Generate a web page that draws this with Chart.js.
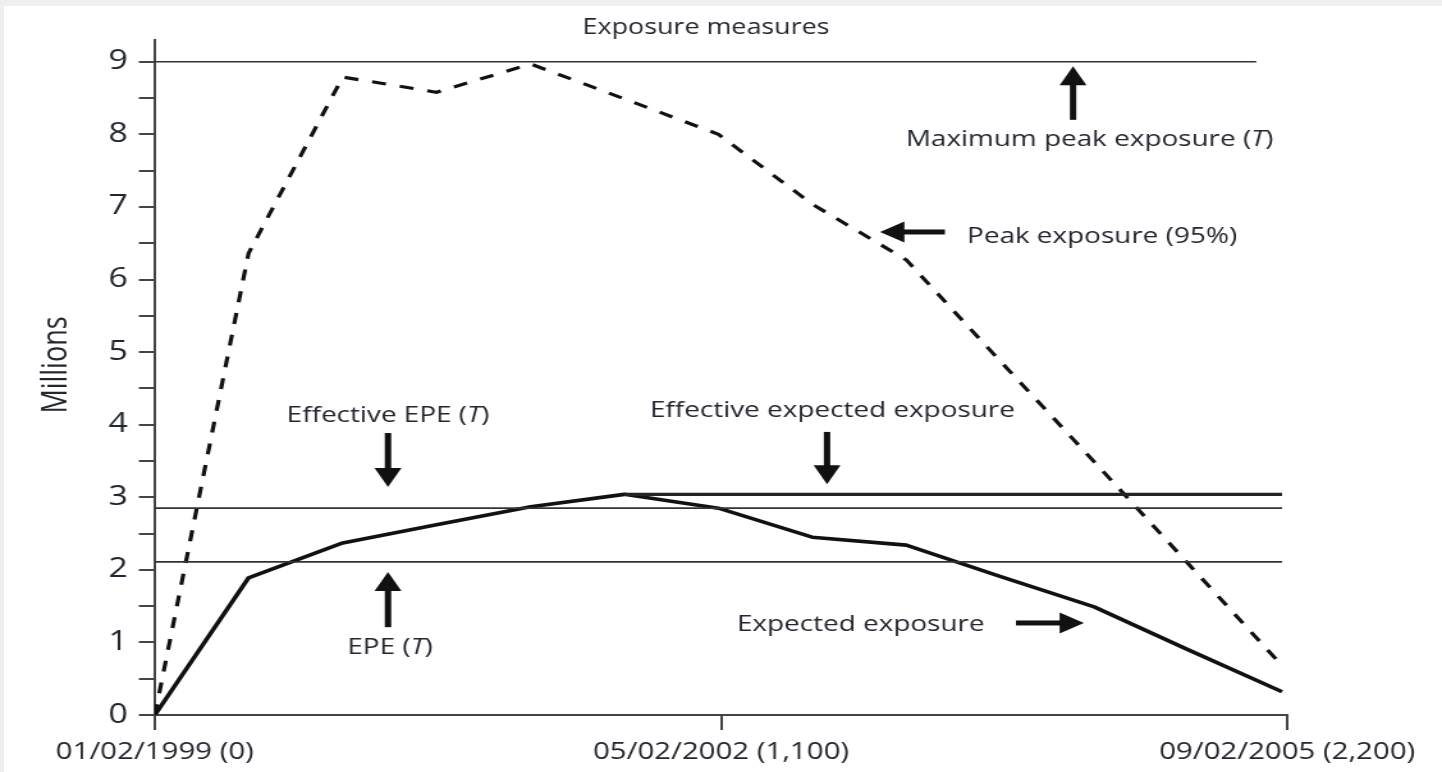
<!DOCTYPE html>
<html>
<head>
<meta charset="utf-8">
<script src="https://cdn.jsdelivr.net/npm/chart.js@4.4.1/dist/chart.umd.min.js"></script>
<style>
  html, body { margin: 0; padding: 0; }
  body { width: 1442px; height: 772px; overflow: hidden; background: #efefef; position: relative; }
  #panel { position: absolute; left: 4px; top: 6px; right: 0; bottom: 0; background: #fff; }
  /* the original figure is stretched sideways, so the whole chart is too */
  #wrap { position: absolute; left: 0; top: 0; width: 1127px; height: 772px;
          transform: scaleX(1.2795); transform-origin: 0 0; }
</style>
</head>
<body>
<div id="panel"></div>
<div id="wrap"><canvas id="chart" width="1127" height="772" style="width:1127px;height:772px"></canvas></div>
<script>
// time grid in days (roughly every six months)
const days = [0, 182, 365, 547, 730, 912, 1095, 1277, 1460, 1642, 1825, 2007, 2190];
const expectedExposure = [0, 1.89, 2.37, 2.62, 2.87, 3.04, 2.85, 2.45, 2.34, 1.91, 1.49, 0.90, 0.32];
const peakExposure = [0, 6.36, 8.79, 8.58, 8.97, 8.49, 8.0, 7.04, 6.27, 4.88, 3.49, 2.09, 0.68];
const effectiveEE = [null, null, null, null, null, 3.04, 3.04, 3.04, 3.04, 3.04, 3.04, 3.04, 3.04];

const maxPeakExposure = 9;
const maxPeakEnd = 2140;
const effectiveEPE = 2.85;
const epe = 2.11;

const xTickValues = [0, 1100, 2200];
const xTickLabels = ['01/02/1999 (0)', '05/02/2002 (1,100)', '09/02/2005 (2,200)'];
const yTickValues = [0, 0.5, 1, 1.5, 2, 2.5, 3, 3.5, 4, 4.5, 5, 5.5, 6, 6.5, 7, 7.5, 8, 8.5, 9];
const yTickLabels = ['0', '1', '2', '3', '4', '5', '6', '7', '8', '9'];

const FONT = '"Open Sans", "Noto Sans", sans-serif';
const TEXT = '#23262f';
const LINE = '#111';

function pts(xs, ys) {
  return xs.map((x, i) => ({ x: x, y: ys[i] }));
}

// labels and arrows, anchored in data units
const labels = [
  { parts: [['Maximum peak exposure (', false], ['T', true], [')', false]], x: 1459, y: 7.92, align: 'left' },
  { parts: [['Peak exposure (95%)', false]], x: 1578, y: 6.59, align: 'left' },
  { parts: [['Effective EPE (', false], ['T', true], [')', false]], x: 453, y: 4.12, align: 'center' },
  { parts: [['Effective expected exposure', false]], x: 962, y: 4.19, align: 'left' },
  { parts: [['EPE (', false], ['T', true], [')', false]], x: 457, y: 0.92, align: 'center' },
  { parts: [['Expected exposure', false]], x: 1131, y: 1.24, align: 'left' }
];
const arrows = [
  { x1: 1784, y1: 8.20, x2: 1784, y2: 8.94 },
  { x1: 1535, y1: 6.655, x2: 1409, y2: 6.655 },
  { x1: 453, y1: 3.885, x2: 453, y2: 3.14 },
  { x1: 1306, y1: 3.90, x2: 1306, y2: 3.18 },
  { x1: 453, y1: 1.21, x2: 453, y2: 1.97 },
  { x1: 1673, y1: 1.268, x2: 1805, y2: 1.268 }
];

function drawRich(ctx, parts, x, y, align, size) {
  const widths = parts.map(p => {
    ctx.font = (p[1] ? 'italic ' : '') + '500 ' + size + 'px ' + FONT;
    return ctx.measureText(p[0]).width;
  });
  const total = widths.reduce((a, b) => a + b, 0);
  let cx = align === 'center' ? x - total / 2 : x;
  ctx.textAlign = 'left';
  ctx.textBaseline = 'middle';
  parts.forEach((p, i) => {
    ctx.font = (p[1] ? 'italic ' : '') + '500 ' + size + 'px ' + FONT;
    ctx.fillText(p[0], cx, y);
    cx += widths[i];
  });
}

function drawArrow(ctx, x1, y1, x2, y2) {
  const shaft = 5, half = 10.5, head = 19;
  const ang = Math.atan2(y2 - y1, x2 - x1);
  const len = Math.hypot(x2 - x1, y2 - y1);
  ctx.save();
  ctx.translate(x1, y1);
  ctx.rotate(ang);
  ctx.fillStyle = LINE;
  ctx.fillRect(0, -shaft / 2, len - head + 1, shaft);
  ctx.beginPath();
  ctx.moveTo(len, 0);
  ctx.lineTo(len - head, -half);
  ctx.lineTo(len - head, half);
  ctx.closePath();
  ctx.fill();
  ctx.restore();
}

const notes = {
  id: 'notes',
  afterDraw(chart) {
    const ctx = chart.ctx;
    const xs = chart.scales.x, ys = chart.scales.y;
    ctx.save();
    ctx.fillStyle = TEXT;
    drawRich(ctx, [['Exposure measures', false]], 551.8, 28, 'center', 21);

    ctx.save();
    ctx.translate(44.5, 365);
    ctx.rotate(-Math.PI / 2);
    drawRich(ctx, [['Millions', false]], 0, 0, 'center', 27);
    ctx.restore();

    labels.forEach(l => {
      ctx.fillStyle = TEXT;
      drawRich(ctx, l.parts, xs.getPixelForValue(l.x), ys.getPixelForValue(l.y), l.align, 21.8);
    });
    arrows.forEach(a => {
      drawArrow(ctx, xs.getPixelForValue(a.x1), ys.getPixelForValue(a.y1),
                xs.getPixelForValue(a.x2), ys.getPixelForValue(a.y2));
    });
    ctx.restore();
  }
};

const thin = { borderColor: '#333', borderWidth: 1.6, pointRadius: 0 };

new Chart(document.getElementById('chart'), {
  type: 'line',
  data: {
    datasets: [
      Object.assign({ label: 'Maximum peak exposure (T)', data: [{ x: 0, y: maxPeakExposure }, { x: maxPeakEnd, y: maxPeakExposure }] }, thin),
      Object.assign({ label: 'Effective EPE (T)', data: [{ x: 0, y: effectiveEPE }, { x: days[days.length - 1], y: effectiveEPE }] }, thin),
      Object.assign({ label: 'EPE (T)', data: [{ x: 0, y: epe }, { x: days[days.length - 1], y: epe }] }, thin),
      {
        label: 'Effective expected exposure',
        data: pts(days, effectiveEE),
        borderColor: '#222', borderWidth: 3.4, pointRadius: 0, spanGaps: false
      },
      {
        label: 'Peak exposure (95%)',
        data: pts(days, peakExposure),
        borderColor: LINE, borderWidth: 3.2, borderDash: [11, 11], pointRadius: 0
      },
      {
        label: 'Expected exposure',
        data: pts(days, expectedExposure),
        borderColor: LINE, borderWidth: 3.6, pointRadius: 0, borderJoinStyle: 'round'
      }
    ]
  },
  options: {
    responsive: false,
    animation: false,
    events: [],
    layout: { padding: { left: 0, right: 121, top: 40, bottom: 0 } },
    plugins: { legend: { display: false }, tooltip: { enabled: false } },
    elements: { line: { tension: 0, fill: false } },
    scales: {
      x: {
        type: 'linear',
        min: 0,
        max: 2200,
        afterBuildTicks: s => { s.ticks = xTickValues.map(v => ({ value: v })); },
        afterFit: s => { s.height = 57; },
        grid: { drawOnChartArea: false, drawTicks: true, tickLength: 15, color: '#444', lineWidth: 2 },
        border: { display: true, color: '#444', width: 2 },
        ticks: {
          autoSkip: false,
          maxRotation: 0,
          padding: 9,
          color: TEXT,
          font: { family: FONT, size: 23, weight: '500' },
          callback: v => xTickLabels[xTickValues.indexOf(v)]
        }
      },
      y: {
        type: 'linear',
        min: 0,
        max: 9.3,
        afterBuildTicks: s => { s.ticks = yTickValues.map(v => ({ value: v })); },
        afterFit: s => { s.width = 121; },
        grid: { drawOnChartArea: false, drawTicks: true, tickLength: 12.5, color: '#444', lineWidth: 2 },
        border: { display: true, color: '#444', width: 2 },
        ticks: {
          autoSkip: false,
          padding: 8.6,
          color: TEXT,
          font: { family: FONT, size: 26.5, weight: '500' },
          callback: v => (v % 1 === 0 ? yTickLabels[v] : '')
        }
      }
    }
  },
  plugins: [notes]
});
</script>
</body>
</html>
